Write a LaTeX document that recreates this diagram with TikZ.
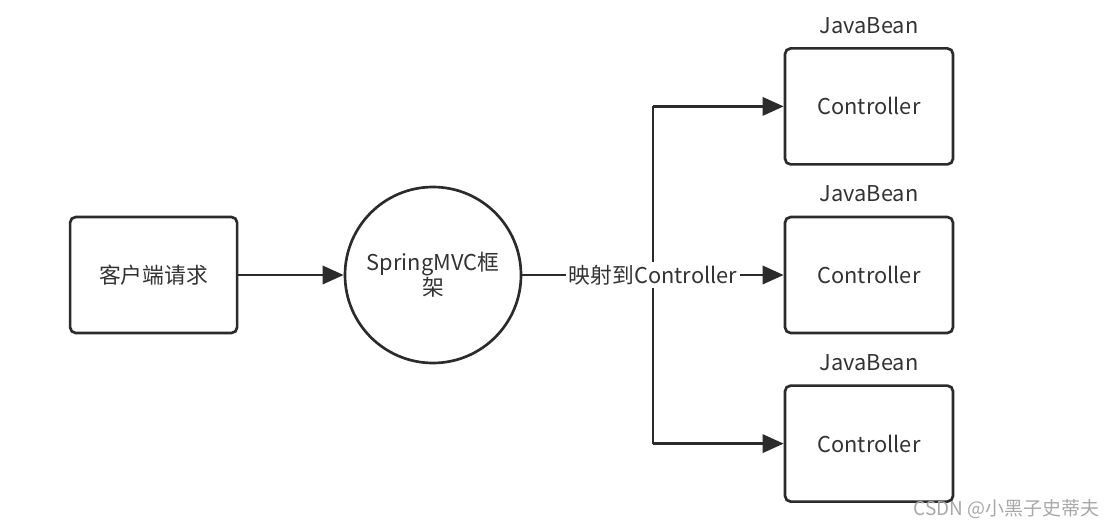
\documentclass[tikz,border=0pt]{standalone}
\usepackage{fontspec}
\setmainfont{Noto Sans CJK SC}
\usetikzlibrary{positioning,arrows.meta}
\definecolor{inkgray}{HTML}{2B2B2B}
\definecolor{textgray}{HTML}{333333}
\definecolor{markgray}{HTML}{A8A8A8}
\tikzset{
  box/.style={draw=inkgray, line width=1.9pt, rectangle, rounded corners=4pt, minimum width=4.2cm, minimum height=2.9cm, text=textgray, font=\fontsize{15.5}{18}\selectfont},
  hubline/.style={draw=inkgray, line width=1.9pt},
  arr/.style={hubline, -{Triangle[length=15pt, width=13pt]}},
  beantext/.style={text=textgray, font=\fontsize{15.5}{18}\selectfont, inner sep=1pt}
}
\begin{document}
\begin{tikzpicture}
%PICTURE SCOPE
\useasboundingbox (0, 0) rectangle (27.95, -13.25);
%CLIENT AND FRAMEWORK
\node (client) [box, minimum width=4.175cm] at (3.84, -6.875) {客户端请求};
\node (frame) [draw=inkgray, line width=1.9pt, circle, minimum size=4.4cm, text=textgray, align=center, font=\fontsize{15.5}{19}\selectfont] at (10.825, -6.875) {\raisebox{-6pt}{SpringMVC框}\\架};
%CONTROLLERS
\node (ctl1) [box] at (21.725, -2.66) {Controller};
\node (ctl2) [box] at (21.725, -6.875) {Controller};
\node (ctl3) [box] at (21.725, -11.09) {Controller};
\node (bean1) [beantext, above=0.3cm of ctl1] {JavaBean};
\node (bean2) [beantext, above=0.3cm of ctl2] {JavaBean};
\node (bean3) [beantext, above=0.3cm of ctl3] {JavaBean};
%CONNECTIONS
\draw [arr] (client.east) -- (frame.west);
\coordinate (hub) at (16.325, -6.875);
\draw [hubline] (hub |- ctl1.west) -- (hub |- ctl3.west);
\draw [arr] (hub |- ctl1.west) -- (ctl1.west);
\draw [arr] (hub |- ctl3.west) -- (ctl3.west);
\draw [arr] (frame.east) -- (ctl2.west);
%MAPPING LABEL
\node (map) [fill=white, inner sep=2pt, text=textgray, font=\fontsize{15.5}{18}\selectfont] at (hub) {映射到Controller};
%WATERMARK
\node (mark) [anchor=east, text=markgray, font=\fontsize{13.5}{16}\selectfont, inner sep=0pt] at (27.5, -12.72) {CSDN @小黑子史蒂夫};
\end{tikzpicture}
\end{document}
